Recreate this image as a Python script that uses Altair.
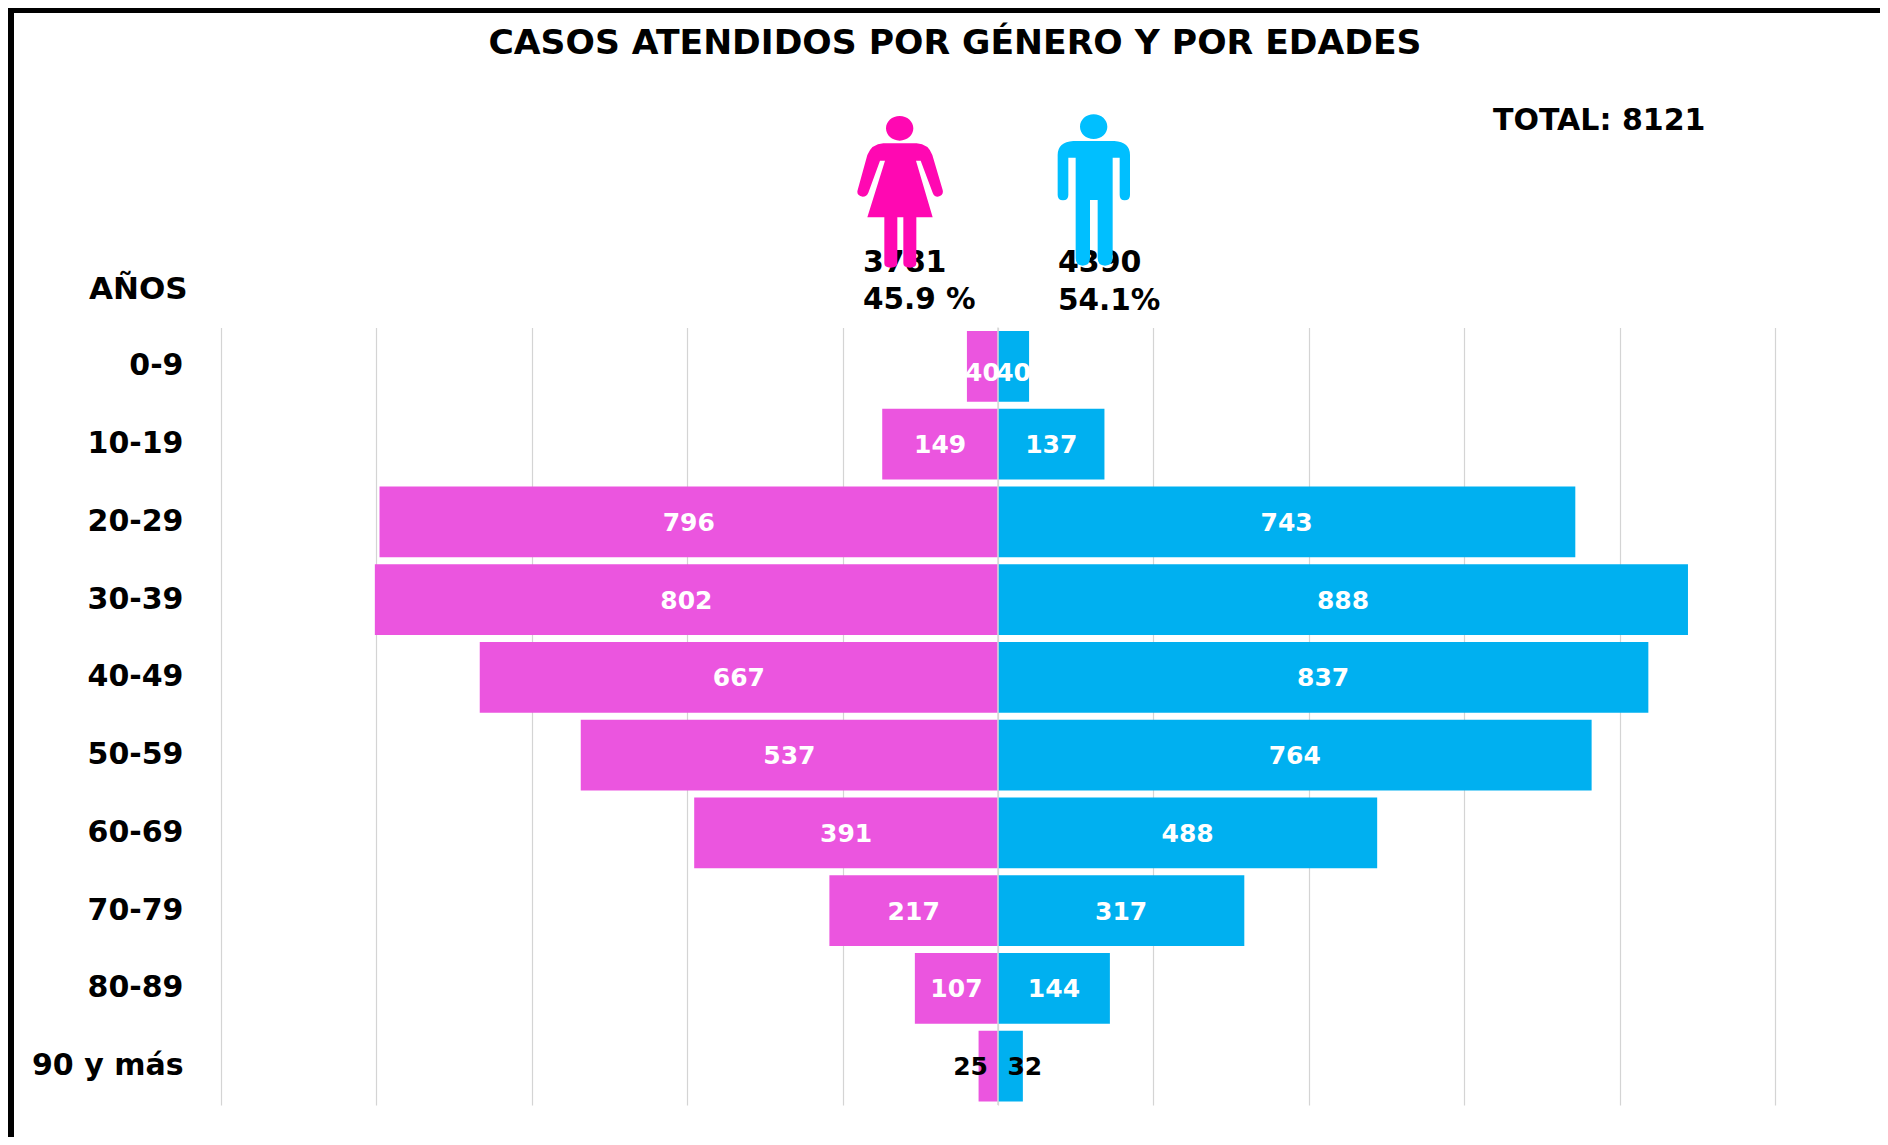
import altair as alt
import pandas as pd

ages = ["0-9", "10-19", "20-29", "30-39", "40-49", "50-59", "60-69", "70-79", "80-89", "90 y más"]
mujeres = [40, 149, 796, 802, 667, 537, 391, 217, 107, 25]
hombres = [40, 137, 743, 888, 837, 764, 488, 317, 144, 32]
grid_values = [-1000, -800, -600, -400, -200, 0, 200, 400, 600, 800, 1000]

FONT = "DejaVu Sans"
PINK = "#EB55DF"
BLUE = "#00B0F0"
PAD_L, PAD_T = 213, 319.5


def sx(px):
    return px - 8 - PAD_L


def sy(px):
    return px - 8 - PAD_T


df = pd.DataFrame(
    {
        "age": ages * 2,
        "sex": ["M"] * len(ages) + ["H"] * len(ages),
        "value": mujeres + hombres,
        "signed": [-v for v in mujeres] + hombres,
    }
)

xscale = alt.Scale(domain=[-1000, 1000], nice=False, zero=False)
yscale = alt.Scale(domain=ages, paddingInner=0.0909, paddingOuter=0.0455)
colors = alt.Scale(domain=["M", "H"], range=[PINK, BLUE])

xaxis = alt.Axis(
    values=grid_values,
    grid=True,
    gridColor="#D4D4D4",
    gridWidth=1.2,
    domain=False,
    ticks=False,
    labels=False,
    orient="bottom",
    title=None,
)
yaxis = alt.Axis(
    domain=False,
    ticks=False,
    grid=False,
    labelFont=FONT,
    labelFontWeight="bold",
    labelFontSize=30,
    labelColor="#000000",
    labelPadding=38,
    labelLimit=300,
    title=None,
)

bars = (
    alt.Chart(df)
    .mark_bar()
    .encode(
        x=alt.X("signed:Q", scale=xscale, axis=xaxis),
        x2=alt.X2(datum=0),
        y=alt.Y("age:N", scale=yscale, sort=ages, axis=yaxis),
        color=alt.Color("sex:N", scale=colors, legend=None),
    )
)

zero = (
    alt.Chart(pd.DataFrame({"z": [0]}))
    .mark_rule(color="#D9D9D9", strokeWidth=1.5)
    .encode(x=alt.X("z:Q", scale=xscale, axis=xaxis))
)


def value_labels(predicate, field, color, dy, dx=0):
    return (
        alt.Chart(df)
        .transform_filter(predicate)
        .transform_calculate(mid="datum.signed/2")
        .mark_text(font=FONT, fontWeight="bold", fontSize=25, color=color, dy=dy, dx=dx)
        .encode(
            x=alt.X(field, scale=xscale, axis=xaxis),
            y=alt.Y("age:N", scale=yscale, sort=ages, axis=yaxis),
            text="value:Q",
        )
    )


labels_first = value_labels("datum.age == '0-9'", "mid:Q", "#FFFFFF", 7)
labels_mid = value_labels("datum.age != '0-9' && datum.age != '90 y más'", "mid:Q", "#FFFFFF", 1)
labels_last_f = value_labels("datum.age == '90 y más' && datum.sex == 'M'", "signed:Q", "#000000", 1, -8)
labels_last_m = value_labels("datum.age == '90 y más' && datum.sex == 'H'", "signed:Q", "#000000", 1, 2)


def note(text, x, y, size=29, align="left"):
    return alt.Chart().mark_text(
        font=FONT, fontWeight="bold", fontSize=size, color="#000000", align=align, baseline="middle"
    ).encode(x=alt.value(sx(x)), y=alt.value(sy(y)), text=alt.value(text))


notes = [
    note("CASOS ATENDIDOS POR GÉNERO Y POR EDADES", 955, 44, size=34.6, align="center"),
    note("TOTAL: 8121", 1493, 121, size=30),
    note("AÑOS", 89, 290, size=31),
    note("3781", 863, 263, size=30),
    note("45.9 %", 863, 300, size=29.5),
    note("4390", 1058, 263, size=30),
    note("54.1%", 1058, 301, size=29.5),
]

WOMAN = (
    "M318 115A41 37 0 1 1 400 115A41 37 0 1 1 318 115Z"
    "M310 160L410 160Q445 162 457 195L488 300Q492 316 473 320Q462 320 458 308L422 212L408 212"
    "L458 382L409 382L409 520Q409 533 390 533Q370 533 370 520L370 382L352 382L352 520Q352 533 332 533"
    "Q313 533 313 520L313 382L262 382L315 212L300 212L265 308Q260 320 248 320Q228 316 233 300"
    "L262 195Q275 162 310 160Z"
)
MAN = (
    "M900 110A41 37 0 1 1 982 110A41 37 0 1 1 900 110Z"
    "M880 153L1003 153Q1050 156 1050 195L1050 315Q1050 331 1034 331Q1019 331 1019 315L1019 203L998 203"
    "L998 505Q998 527 975 527Q953 527 953 505L953 330L930 330L930 505Q930 527 908 527Q887 527 887 505"
    "L887 203L865 203L865 315Q865 331 849 331Q833 331 833 315L833 195Q833 156 880 153Z"
)


def figure(path, color):
    # the paths are written in a 3x grid whose origin is at page pixel (780, 90)
    return alt.Chart().mark_point(
        shape=path, size=(2 / 3) ** 2, filled=True, color=color, opacity=1, strokeWidth=0
    ).encode(x=alt.value(sx(780)), y=alt.value(sy(90)))


def band(x0, x1, y0, y1, color):
    return alt.Chart().mark_rect(color=color).encode(
        x=alt.value(sx(x0)), x2=alt.value(sx(x1)), y=alt.value(sy(y0)), y2=alt.value(sy(y1))
    )


frame = [band(8, 14, 8, 1137, "#000000"), band(8, 1880, 8, 13, "#000000")]

chart = (
    alt.layer(
        bars,
        zero,
        labels_first,
        labels_mid,
        labels_last_f,
        labels_last_m,
        *notes,
        figure(WOMAN, "#FF08B2"),
        figure(MAN, "#00BFFF"),
        *frame,
    )
    .properties(
        width=1554,
        height=777.5,
        background="#FFFFFF",
        padding={"left": PAD_L, "top": PAD_T, "right": 105, "bottom": 32},
        autosize=alt.AutoSizeParams(type="none"),
    )
    .configure_view(stroke=None)
)

chart.save("out.html", embed_options={"renderer": "svg", "actions": False})
